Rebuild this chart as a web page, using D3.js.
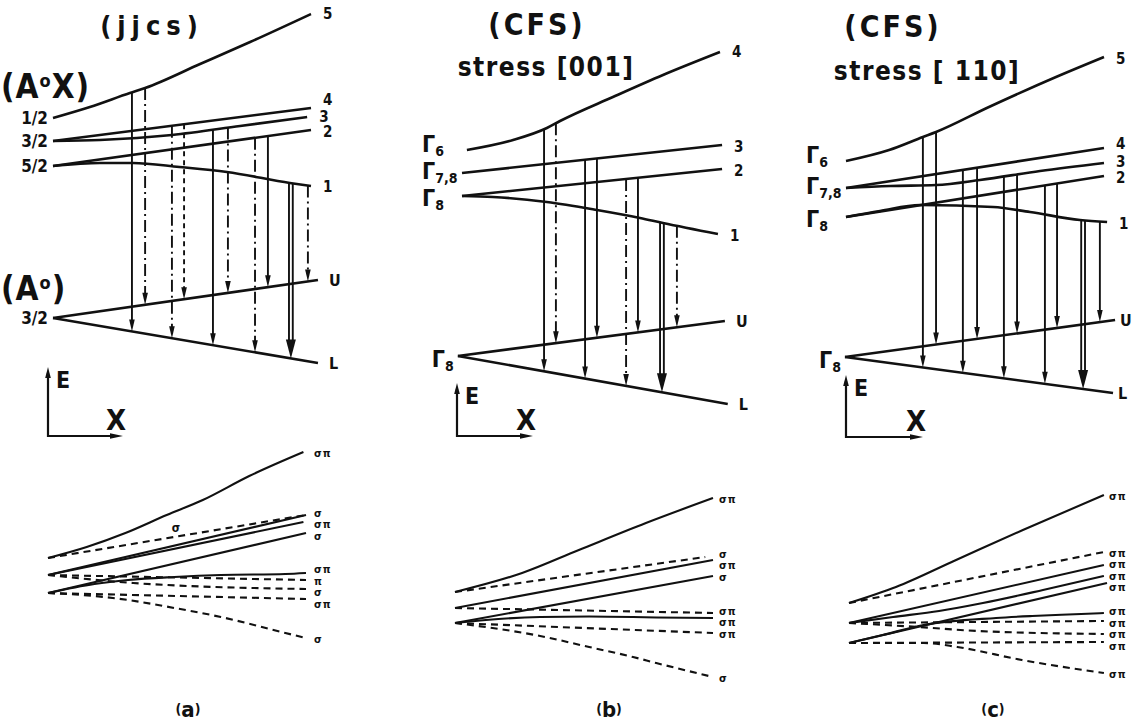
<!DOCTYPE html>
<html>
<head>
<meta charset="utf-8">
<script src="https://cdn.jsdelivr.net/npm/d3@7"></script>
<style>
body { margin: 0; background: #fff; }
svg text { font-family: "Liberation Sans Narrow", "DejaVu Sans Condensed", "Liberation Sans", Arial, sans-serif; font-weight: bold; fill: #111; }
</style>
</head>
<body>
<svg id="chart" width="1136" height="723"></svg>
<script>
// s = stress (0..1), E = energy (arbitrary units)

// ---- (a) jjcs ----
const levelsA = {
  "5": [[0,131],[0.143,136.5],[0.298,143.5],[0.357,146],[0.57,158],[0.764,169],[1,183]],
  "4": [[0,119.5],[1,136]],
  "3": [[0,119.5],[0.182,120],[0.461,122.5],[0.725,127],[0.985,131.5]],
  "2": [[0,107],[1,125]],
  "1": [[0,107],[0.182,108.5],[0.31,108.5],[0.49,106.5],[0.674,104],[0.918,98.5],[1,97]]
};
const groundA = { U: [[0,31],[1.027,50]], L: [[0,31],[1.027,8.5]] };
const zeroLabelsA = [["1/2","5"],["3/2","4"],["5/2","2"]];
// [from, to, stress, polarisation, strong]
const transA = [
  ["5","L",0.306,"sp",false], ["5","U",0.357,"s",false],
  ["4","L",0.461,"s",false],  ["4","U",0.508,"p",false],
  ["3","L",0.620,"sp",false], ["3","U",0.678,"s",false],
  ["2","L",0.783,"s",false],  ["2","U",0.833,"sp",false],
  ["1","L",0.922,"sp",true],  ["1","U",0.988,"s",false]
];
// transition energies vs stress, same order as transA
const shiftA = [
  [[0,71],[0.15,76.5],[0.3,83.5],[0.46,92.5],[0.6,100],[0.78,112],[0.99,124]],
  [[0,71],[1,92.5]],
  [[0,62.5],[1,92.5]],
  [[0,62.5],[1,60]],
  [[0,62.5],[0.99,89]],
  [[0,62.5],[0.33,58.5],[1,55.5]],
  [[0,53.5],[1,83.5]],
  [[0,53.5],[1,50.5]],
  [[0,53.5],[0.18,58],[0.31,60],[0.49,61.5],[0.67,62.5],[0.92,63],[1,63.5]],
  [[0,53.5],[0.18,52],[0.31,50],[0.49,46],[0.67,41.5],[0.92,33.5],[1,31]]
];

// ---- (b) CFS, stress [001] ----
const levelsB = {
  "4": [[0.019,115],[0.198,120],[0.329,126],[0.38,129.5],[0.585,141.5],[0.779,152.5],[1,164]],
  "3": [[0,103.5],[1.008,117.5]],
  "2": [[0,92],[1.008,105.5]],
  "1": [[0,92],[0.12,91.5],[0.329,89],[0.523,85],[0.69,81],[0.779,78.5],[0.992,73]]
};
const groundB = { U: [[-0.016,12],[1.019,29.5]], L: [[-0.016,12],[1.03,-12]] };
const zeroLabelsB = [["Γ","6","4"],["Γ","7,8","3"],["Γ","8","2"]];
const transB = [
  ["4","L",0.318,"sp",false], ["4","U",0.364,"s",false],
  ["3","L",0.477,"sp",false], ["3","U",0.523,"sp",false],
  ["2","L",0.636,"s",false],  ["2","U",0.682,"sp",false],
  ["1","L",0.775,"sp",true],  ["1","U",0.833,"s",false]
];
const shiftB = [
  [[0,54],[0.26,63.5],[0.48,75],[0.74,88.5],[1,101]],
  [[0,54],[0.97,71.5]],
  [[0,46],[1,70]],
  [[0,46],[1,43.5]],
  [[0,38.5],[1,62]],
  [[0,38.5],[1,33.5]],
  [[0,38.5],[0.12,40],[0.33,41.5],[0.52,41.75],[0.69,41.5],[0.78,41.25],[1,41]],
  [[0,38.5],[0.33,32],[0.52,26.5],[0.69,21.5],[0.78,18.5],[1,11.5]]
];

// ---- (c) CFS, stress [110] ----
const levelsC = {
  "5": [[0,109.5],[0.167,115],[0.298,121.5],[0.349,124],[0.554,136.5],[0.814,151.5],[1,161.5]],
  "4": [[0,96],[1,116]],
  "3": [[0,96],[0.171,97],[0.349,97.5],[0.519,100],[0.752,104.5],[1,108.5]],
  "2": [[0,81.5],[1,102]],
  "1": [[0,81.5],[0.132,84.5],[0.287,87.5],[0.57,86.5],[0.713,84],[0.907,80],[1.012,79]]
};
const groundC = { U: [[-0.004,11.5],[1.043,30]], L: [[-0.004,11.5],[1.035,-6.5]] };
const zeroLabelsC = [["Γ","6","5"],["Γ","7,8","4"],["Γ","8","2"]];
const transC = [
  ["5","L",0.298,"sp",false], ["5","U",0.349,"sp",false],
  ["4","L",0.453,"sp",false], ["4","U",0.508,"sp",false],
  ["3","L",0.612,"sp",false], ["3","U",0.663,"sp",false],
  ["2","L",0.771,"sp",false], ["2","U",0.818,"sp",false],
  ["1","L",0.919,"sp",true],  ["1","U",0.984,"sp",false]
];
const shiftC = [
  [[0,48.5],[0.182,56.5],[0.415,70],[0.674,85],[0.988,102.5]],
  [[0,48.5],[0.988,74]],
  [[0,38.5],[0.988,67.5]],
  [[0,38.5],[0.988,39.5]],
  [[0,38.5],[0.171,41.5],[0.349,44.5],[0.519,48.5],[0.752,55],[0.988,62]],
  [[0,38.5],[0.27,36.5],[0.5,34.5],[0.988,33]],
  [[0,28.5],[1,58.5]],
  [[0,28.5],[0.988,29]],
  [[0,28.5],[0.13,32.5],[0.29,37.5],[0.57,41],[0.71,42],[0.9,43],[0.988,43.5]],
  [[0,28.5],[0.29,28.5],[0.42,26.5],[0.67,20],[0.988,13.5]]
];

const polText = { sp: "σπ", s: "σ", p: "π" };
const polDash = { sp: null, s: "12,4,2,4", p: "5,4" };

// ---- layout ----
const svg = d3.select("#chart");
const yTop = d3.scaleLinear().domain([0, 190]).range([380, 0]);
const yBot = d3.scaleLinear().domain([0, 130]).range([700, 440]);
const span = 258;

const panels = [
  { key: "a", tx0: 53, bx0: 48, levels: levelsA, ground: groundA, zero: zeroLabelsA,
    trans: transA, shift: shiftA, axis: [48, 436, 367, 123], labX: 314, gx: 11,
    rightDy: { "5": 0, "4": -8, "3": 0, "2": 2, "1": 1 }, midLabel: 1 },
  { key: "b", tx0: 462, bx0: 455, levels: levelsB, ground: groundB, zero: zeroLabelsB,
    trans: transB, shift: shiftB, axis: [457, 436, 383, 533], labX: 719, gx: 11,
    rightDy: { "4": 0, "3": 2, "2": 2, "1": 2 } },
  { key: "c", tx0: 846, bx0: 849, levels: levelsC, ground: groundC, zero: zeroLabelsC,
    trans: transC, shift: shiftC, axis: [846, 437, 375, 923], labX: 1109, gx: 5,
    rightDy: { "5": 2, "4": -4, "3": -1, "2": 2, "1": 2 } }
];
const zeroDy = { "6": 2, "7,8": 6, "8": 10 };

function at(pts, s) {
  for (let i = 0; i < pts.length - 1; i++) {
    if (s <= pts[i + 1][0] || i === pts.length - 2) {
      const [s0, e0] = pts[i], [s1, e1] = pts[i + 1];
      return e0 + (e1 - e0) * (s - s0) / (s1 - s0);
    }
  }
}

function head(g, x, y, hw, hl, dir) {
  let p;
  if (dir === "down") p = `M${x - hw},${y - hl}L${x},${y}L${x + hw},${y - hl}Z`;
  else if (dir === "up") p = `M${x - hw},${y + hl}L${x},${y}L${x + hw},${y + hl}Z`;
  else p = `M${x - hl},${y - hw}L${x},${y}L${x - hl},${y + hw}Z`;
  g.append("path").attr("d", p).attr("fill", "#111");
}

panels.forEach(p => {
  const g = svg.append("g").attr("class", "panel-" + p.key);
  const x = d3.scaleLinear().domain([0, 1]).range([p.tx0, p.tx0 + span]);
  const xb = d3.scaleLinear().domain([0, 1]).range([p.bx0, p.bx0 + span]);

  const lineTop = d3.line().x(d => x(d[0])).y(d => yTop(d[1])).curve(d3.curveMonotoneX);
  const lineBot = d3.line().x(d => xb(d[0])).y(d => yBot(d[1])).curve(d3.curveMonotoneX);

  // excited levels
  Object.entries(p.levels).forEach(([name, pts]) => {
    g.append("path").attr("d", lineTop(pts))
      .attr("fill", "none").attr("stroke", "#111").attr("stroke-width", 2.6);
    const last = pts[pts.length - 1];
    g.append("text")
      .attr("x", x(last[0]) + 12)
      .attr("y", yTop(last[1]) + 5 + (p.rightDy[name] || 0))
      .attr("font-size", 15)
      .text(name);
  });

  // ground levels U / L
  Object.entries(p.ground).forEach(([name, pts]) => {
    g.append("path").attr("d", lineTop(pts))
      .attr("fill", "none").attr("stroke", "#111").attr("stroke-width", 2.6);
    const last = pts[pts.length - 1];
    g.append("text")
      .attr("x", x(last[0]) + p.gx)
      .attr("y", yTop(last[1]) + 6)
      .attr("font-size", 16)
      .text(name);
  });

  // transitions (arrows)
  p.trans.forEach(([from, to, s, pol, strong]) => {
    const xx = x(s);
    const y1 = yTop(at(p.levels[from], s));
    const y2 = yTop(at(p.ground[to], s));
    if (strong) {
      [-1.9, 1.9].forEach(off => {
        g.append("line").attr("x1", xx + off).attr("x2", xx + off)
          .attr("y1", y1).attr("y2", y2 - 16)
          .attr("stroke", "#111").attr("stroke-width", 1.9);
      });
      head(g, xx, y2, 5, 19, "down");
    } else {
      g.append("line").attr("x1", xx).attr("x2", xx)
        .attr("y1", y1).attr("y2", y2 - 9)
        .attr("stroke", "#111").attr("stroke-width", 1.9)
        .attr("stroke-dasharray", polDash[pol]);
      head(g, xx, y2, 2.8, 12, "down");
    }
  });

  // zero-stress labels
  p.zero.forEach(z => {
    if (p.key === "a") {
      g.append("text").attr("x", p.tx0 - 5).attr("y", yTop(p.levels[z[1]][0][1]) + 6)
        .attr("text-anchor", "end").attr("font-size", 17).text(z[0]);
    } else {
      const lev = p.levels[z[2]][0][1];
      const t = g.append("text").attr("x", p.tx0 - 40).attr("y", yTop(lev) + zeroDy[z[1]])
        .attr("font-size", 23);
      t.append("tspan").text(z[0]);
      t.append("tspan").attr("font-size", 14).attr("dy", 4).text(z[1]);
    }
  });
  const g0 = p.ground.U[0];
  if (p.key === "a") {
    g.append("text").attr("x", p.tx0 - 5).attr("y", yTop(g0[1]) + 6)
      .attr("text-anchor", "end").attr("font-size", 17).text("3/2");
  } else {
    const t = g.append("text").attr("x", x(g0[0]) - 26).attr("y", yTop(g0[1]) + 11)
      .attr("font-size", 23);
    t.append("tspan").text("Γ");
    t.append("tspan").attr("font-size", 14).attr("dy", 4).text("8");
  }

  // E / X indicator
  const [ax, ay, aTop, aRight] = p.axis;
  g.append("path").attr("d", `M${ax},${aTop + 6}V${ay}H${aRight - 6}`)
    .attr("fill", "none").attr("stroke", "#111").attr("stroke-width", 2.2);
  head(g, ax, aTop, 2.8, 11, "up");
  head(g, aRight, ay, 2.8, 13, "right");
  g.append("text").attr("x", ax + 8).attr("y", aTop + 21).attr("font-size", 23).text("E");
  g.append("text").attr("x", aRight - 17).attr("y", ay - 6).attr("font-size", 29).text("X");

  // transition energies (lower diagram)
  const labels = [];
  p.shift.forEach((pts, i) => {
    const tr = p.trans[i];
    g.append("path").attr("d", lineBot(pts))
      .attr("fill", "none").attr("stroke", "#111").attr("stroke-width", 2.1)
      .attr("stroke-dasharray", tr[1] === "U" ? "7,5" : null);
    const last = pts[pts.length - 1];
    if (p.midLabel === i) {
      const sm = 0.48;
      g.append("text").attr("x", xb(sm)).attr("y", yBot(at(pts, sm)) - 5)
        .attr("font-size", 12).attr("font-family", "DejaVu Sans").text(polText[tr[3]]);
    } else {
      labels.push({ y: yBot(last[1]) + 1, text: polText[tr[3]] });
    }
  });
  labels.sort((m, n) => m.y - n.y);
  const gap = 11.5;
  for (let k = 0; k < 80; k++) {
    for (let i = 1; i < labels.length; i++) {
      const d = labels[i].y - labels[i - 1].y;
      if (d < gap) { labels[i - 1].y -= (gap - d) / 2; labels[i].y += (gap - d) / 2; }
    }
  }
  labels.forEach(l => {
    g.append("text").attr("x", p.labX).attr("y", l.y + 4)
      .attr("font-size", 11).attr("font-family", "DejaVu Sans").attr("letter-spacing", 1).text(l.text);
  });
});

// titles and side labels
const T = (x, y, size, txt, ls) => svg.append("text")
  .attr("x", x).attr("y", y).attr("font-size", size)
  .attr("text-anchor", "middle")
  .attr("letter-spacing", ls || 0).text(txt);

T(152, 35, 27, "(jjcs)", 6);
T(537, 35, 30, "(CFS)", 3);
T(546, 76, 26, "stress [001]", 1.5);
T(893, 37, 30, "(CFS)", 3);
T(927, 80, 26, "stress [ 110]", 1.5);

const ax1 = svg.append("text").attr("x", 1).attr("y", 98).attr("font-size", 33).attr("letter-spacing", 1);
ax1.append("tspan").text("(A");
ax1.append("tspan").attr("font-size", 18).attr("dy", -11).text("o");
ax1.append("tspan").attr("dy", 11).text("X)");
const ax2 = svg.append("text").attr("x", 1).attr("y", 300).attr("font-size", 33).attr("letter-spacing", 1);
ax2.append("tspan").text("(A");
ax2.append("tspan").attr("font-size", 18).attr("dy", -11).text("o");
ax2.append("tspan").attr("dy", 11).text(")");

[["a", 188], ["b", 609], ["c", 993]].forEach(([k, cx]) => {
  const t = svg.append("text").attr("x", cx).attr("y", 717).attr("text-anchor", "middle").attr("font-size", 22);
  t.append("tspan").attr("font-size", 14).attr("dy", -3).text("(");
  t.append("tspan").attr("dy", 3).text(k);
  t.append("tspan").attr("font-size", 14).attr("dy", -3).text(")");
});
</script>
</body>
</html>
